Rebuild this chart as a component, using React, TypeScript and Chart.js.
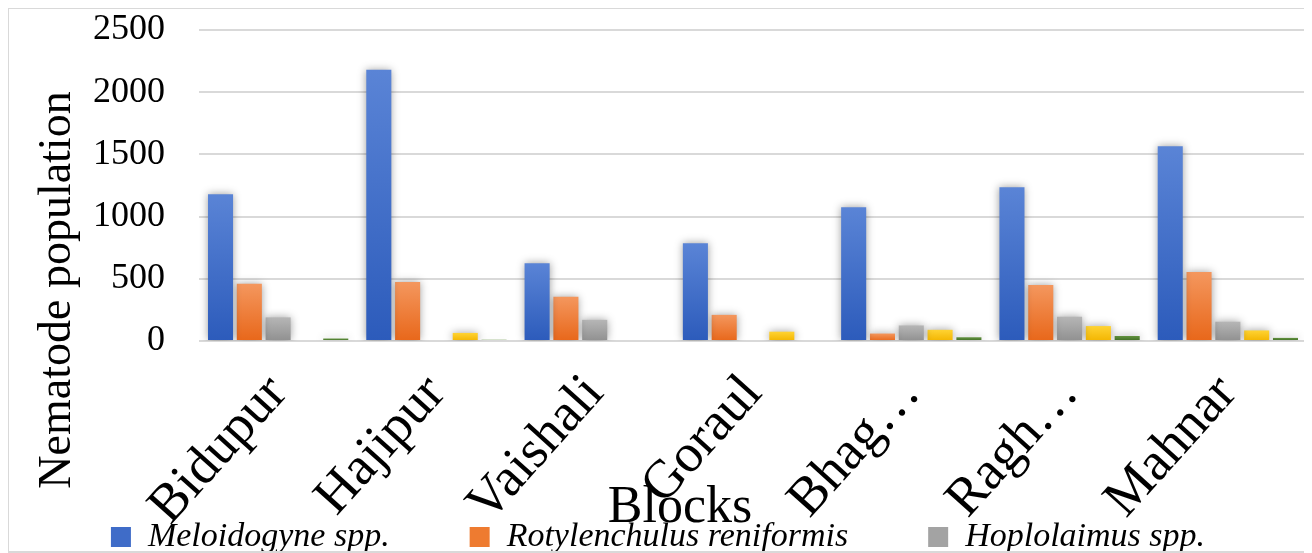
import React, { useEffect, useRef } from "react";
import { Chart, registerables } from "chart.js";

Chart.register(...registerables);

// ---------- data ----------
const categories = ["Bidupur", "Hajipur", "Vaishali", "Goraul", "Bhagwanpur", "Raghopur", "Mahnar"];
const tickLabels = ["Bidupur", "Hajipur", "Vaishali", "Goraul", "Bhag…", "Ragh…", "Mahnar"];
const seriesNames = [
  "Meloidogyne spp.",
  "Rotylenchulus reniformis",
  "Hoplolaimus spp.",
  "Helicotylenchus spp.",
  "Tylenchorhynchus spp.",
];
const meloidogyne = [1180, 2180, 625, 785, 1075, 1235, 1565];
const rotylenchulus = [460, 475, 355, 210, 60, 450, 555];
const hoplolaimus = [190, 0, 170, 0, 125, 195, 155];
const helicotylenchus = [0, 65, 0, 75, 90, 120, 85];
const tylenchorhynchus = [20, 10, 0, 0, 30, 40, 25];
const yTicks = [0, 500, 1000, 1500, 2000, 2500];
const xTitle = "Blocks";
const yTitle = "Nematode population";
const legendCount = 3; // entries visible in the picture

// ---------- styles ----------
const SERIF = '"Liberation Serif", "Times New Roman", serif';
const gradients: [string, string][] = [
  ["#5a84d6", "#2c5bbb"],
  ["#f4975e", "#e8671a"],
  ["#b6b6b6", "#909090"],
  ["#ffd333", "#f3b500"],
  ["#62923f", "#3d6a22"],
];
const solid = ["#3f6cc8", "#ee7b30", "#a3a3a3", "#ffc000", "#4f7f2e"];

const barShadow = {
  id: "barShadow",
  beforeDatasetsDraw(chart: any) {
    const c = chart.ctx;
    c.save();
    c.shadowColor = "rgba(0,0,0,0.38)";
    c.shadowBlur = 8;
    c.shadowOffsetX = 0;
    c.shadowOffsetY = 0;
  },
  afterDatasetsDraw(chart: any) {
    chart.ctx.restore();
  },
};

const axisTitles = {
  id: "axisTitles",
  afterDraw(chart: any) {
    const c = chart.ctx;
    c.save();
    c.fillStyle = "#000";
    c.font = `46px ${SERIF}`;
    c.textAlign = "center";
    c.textBaseline = "middle";
    c.translate(49, 281);
    c.rotate(-Math.PI / 2);
    c.fillText(yTitle, 0, 0);
    c.restore();

    c.save();
    c.fillStyle = "#000";
    c.font = `52px ${SERIF}`;
    c.textAlign = "center";
    c.textBaseline = "alphabetic";
    c.fillText(xTitle, 671, 513);
    c.restore();
  },
};

function barGradient(idx: number) {
  return (ctx: any) => {
    const chart = ctx.chart;
    const area = chart.chartArea;
    const ys = chart.scales?.y;
    if (!area || !ys || ctx.type !== "data") return solid[idx];
    const v = typeof ctx.raw === "number" ? ctx.raw : 0;
    const top = ys.getPixelForValue(v);
    const bottom = ys.getPixelForValue(0);
    if (!isFinite(top) || !isFinite(bottom) || Math.abs(bottom - top) < 1) return gradients[idx][1];
    const g = chart.ctx.createLinearGradient(0, top, 0, bottom);
    g.addColorStop(0, gradients[idx][0]);
    g.addColorStop(1, gradients[idx][1]);
    return g;
  };
}

export default function App() {
  const ref = useRef<HTMLCanvasElement | null>(null);

  useEffect(() => {
    if (!ref.current) return;
    const series = [meloidogyne, rotylenchulus, hoplolaimus, helicotylenchus, tylenchorhynchus];
    const chart = new Chart(ref.current, {
      type: "bar",
      data: {
        labels: categories,
        datasets: series.map((d, i) => ({
          label: seriesNames[i],
          data: d,
          backgroundColor: barGradient(i),
          borderWidth: 0,
          categoryPercentage: 0.91,
          barPercentage: 0.87,
        })),
      },
      options: {
        responsive: false,
        animation: false,
        devicePixelRatio: 1,
        layout: { padding: { top: 21, bottom: 5, left: 0, right: 0 } },
        plugins: {
          tooltip: { enabled: false },
          title: { display: false },
          legend: {
            display: true,
            position: "bottom",
            labels: {
              color: "#000",
              font: { family: SERIF, size: 34, style: "italic" },
              boxWidth: 20,
              boxHeight: 20,
              padding: 80,
              generateLabels: (ch: any) =>
                ch.data.datasets.map((ds: any, i: number) => ({
                  text: ds.label,
                  fillStyle: solid[i],
                  strokeStyle: "rgba(0,0,0,0)",
                  lineWidth: 0,
                  hidden: false,
                  datasetIndex: i,
                })),
              filter: (item: any) => item.datasetIndex < legendCount,
            },
          },
        },
        scales: {
          x: {
            grid: { display: false, drawTicks: false },
            border: { display: false },
            ticks: {
              autoSkip: false,
              maxRotation: 48,
              minRotation: 48,
              padding: 22,
              color: "#000",
              font: { family: SERIF, size: 54 },
              callback: (_v: any, i: number) => tickLabels[i],
            },
            afterFit: (s: any) => {
              s.height = 99;
              // let the rotated labels overflow their box, as in the original
              s._computeLabelArea = () => undefined;
            },
          },
          y: {
            min: 0,
            max: 2500,
            grid: { color: "#d9d9d9", lineWidth: 2, drawTicks: false },
            border: { display: false },
            ticks: {
              padding: 34,
              color: "#000",
              font: { family: SERIF, size: 36 },
              callback: (v: any) => String(v),
            },
            afterBuildTicks: (s: any) => {
              s.ticks = yTicks.map((v) => ({ value: v }));
            },
            afterFit: (s: any) => {
              s.width = 190;
              s.paddingTop = 0;
              s.paddingBottom = 0;
            },
          },
        },
      },
      plugins: [barShadow, axisTitles],
    } as any);
    return () => chart.destroy();
  }, []);

  return (
    <div
      style={{
        position: "relative",
        left: -1,
        top: -1,
        width: 1303,
        height: 546,
        border: "2px solid #d9d9d9",
        boxSizing: "border-box",
        overflow: "hidden",
        background: "#fff",
      }}
    >
      <canvas ref={ref} width={1298} height={560} style={{ display: "block" }} />
    </div>
  );
}
